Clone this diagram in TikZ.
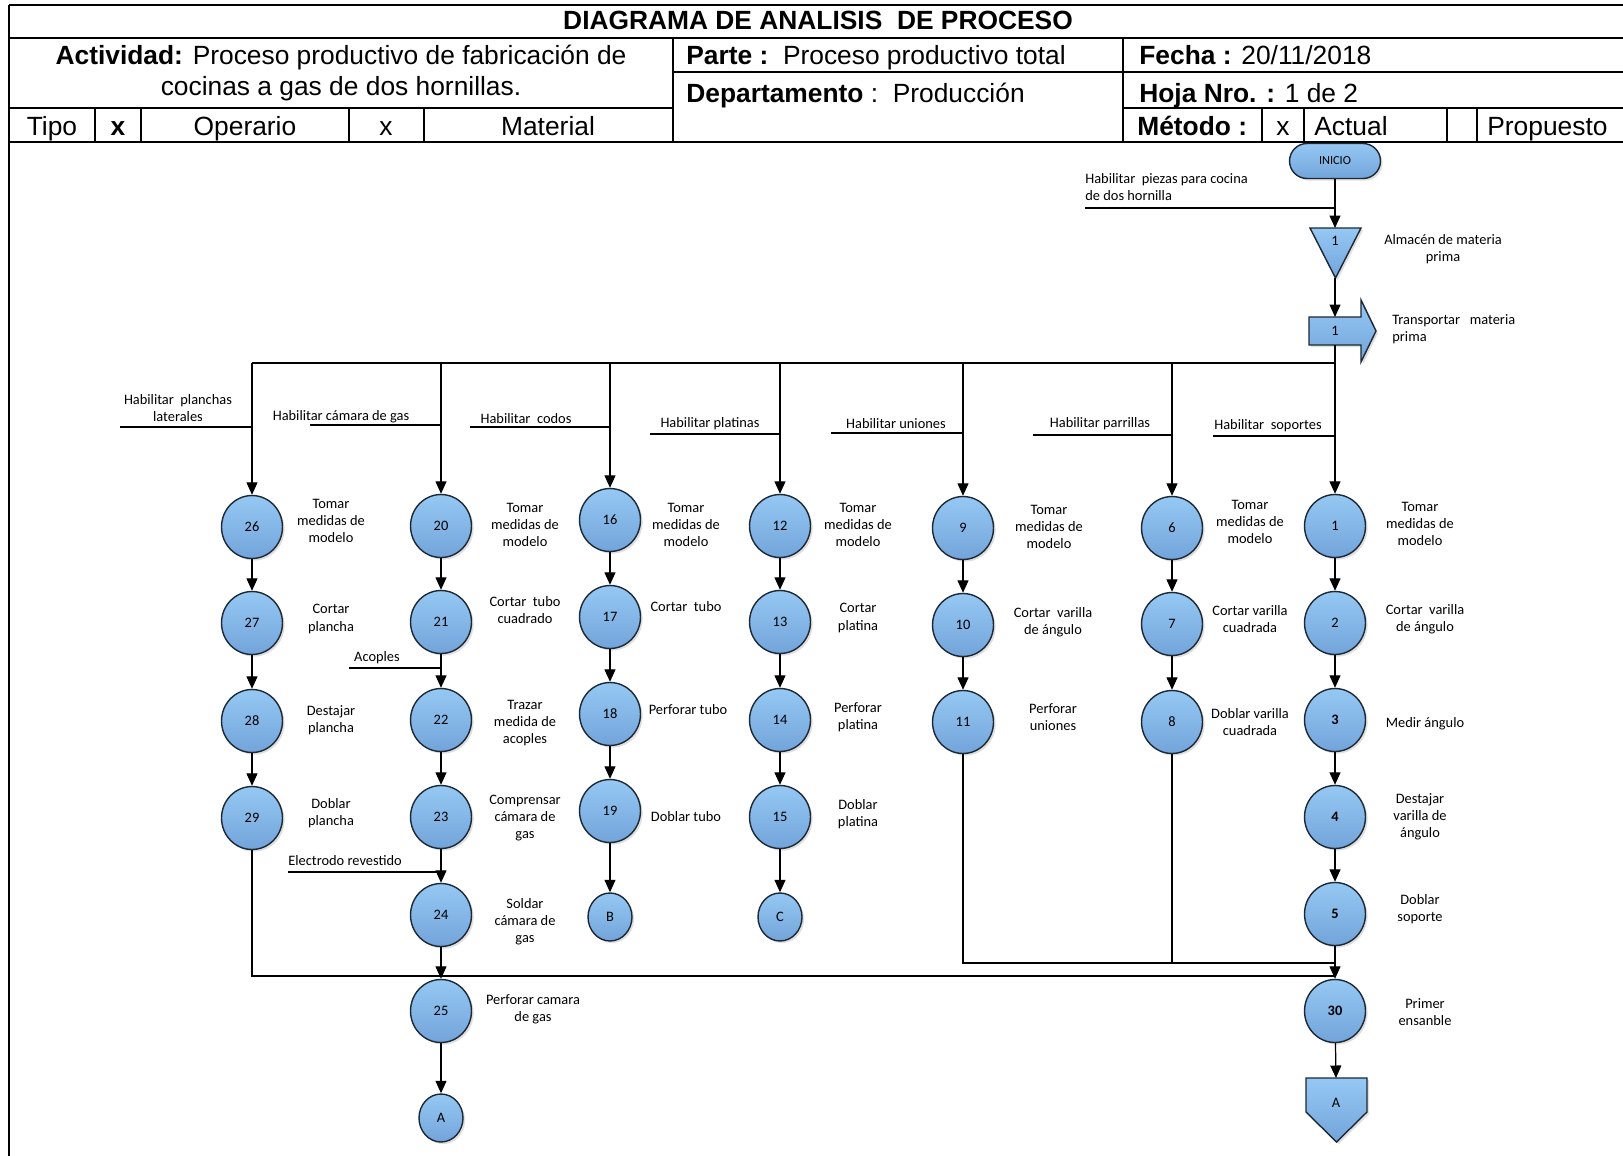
\documentclass[tikz,border=0pt]{standalone}
\usepackage{fontspec}
\setmainfont{Liberation Sans}
\newfontfamily\flowfont{Carlito}
\usetikzlibrary{arrows.meta,positioning,calc,shapes.geometric,shadows}
\definecolor{opup}{RGB}{150,200,244}
\definecolor{opdown}{RGB}{114,164,218}
\definecolor{opedge}{RGB}{28,40,52}
\tikzset{
  grid/.style={line width=1.2pt},
  hdr/.style={font=\fontsize{15}{17.6}\selectfont, inner sep=0pt},
  lbl/.style={font=\flowfont\fontsize{8.2}{9.7}\selectfont, align=center, inner sep=0pt},
  symfill/.style={draw=opedge, line width=0.8pt, top color=opup, bottom color=opdown,
                  drop shadow={opacity=0.25, shadow xshift=1.2pt, shadow yshift=-1.2pt}},
  opnode/.style={ellipse, symfill, minimum width=1.22cm, minimum height=1.26cm,
                 inner sep=0pt, font=\flowfont\fontsize{8.2}{9.7}\selectfont},
  linknode/.style={opnode, minimum width=0.88cm, minimum height=0.96cm},
  startnode/.style={rectangle, symfill, rounded corners=0.35cm, minimum width=1.82cm,
                    minimum height=0.7cm, inner sep=0pt, font=\flowfont\fontsize{7}{8}\selectfont},
  numlbl/.style={inner sep=0pt, font=\flowfont\fontsize{8.2}{9.7}\selectfont},
  flow/.style={-{Triangle[length=2.5mm,width=2.2mm]}, line width=0.7pt},
  feed/.style={line width=0.7pt},
}
\begin{document}
\begin{tikzpicture}[x=0.02cm, y=-0.02cm]
  \useasboundingbox (0,0) rectangle (1623,1156);

  % header grid
  \draw[grid] (9,5) -- (1623,5);
  \draw[grid] (9,38) -- (1623,38);
  \draw[grid] (673,72) -- (1623,72);
  \draw[grid] (9,108) -- (673,108);
  \draw[grid] (1123,108) -- (1623,108);
  \draw[grid] (9,142) -- (1623,142);
  \draw[grid] (9,5) -- (9,1156);
  \draw[grid] (673,38) -- (673,142);
  \draw[grid] (1123,38) -- (1123,142);
  \foreach \xv in {95,141,349,424,1262,1304,1447,1477}
    \draw[grid] (\xv,108) -- (\xv,142);

  % header texts
  \node[hdr, anchor=base] (title) at (818,30) {\textbf{DIAGRAMA DE ANALISIS\ \ DE PROCESO}};
  \node[hdr, align=center] (actividad) at (341,73)
    {\textbf{Actividad:} Proceso productivo de fabricación de\\cocinas a gas de dos hornillas.};
  \node[hdr, anchor=base west] (parte) at (686,64) {\textbf{Parte :}\ \ Proceso productivo total};
  \node[hdr, anchor=base west] (depto) at (686,102) {\textbf{Departamento} :\ \ Producción};
  \node[hdr, anchor=base west] (fecha) at (1139,64) {\textbf{Fecha :} 20/11/2018};
  \node[hdr, anchor=base west] (hoja) at (1139,102) {\textbf{Hoja Nro. :} 1 de 2};
  \node[hdr, anchor=base] (tipo) at (52,135) {Tipo};
  \node[hdr, anchor=base] (tipoOp) at (118,135) {\textbf{x}};
  \node[hdr, anchor=base] (operario) at (245,135) {Operario};
  \node[hdr, anchor=base] (tipoMat) at (386,135) {x};
  \node[hdr, anchor=base] (material) at (548,135) {Material};
  \node[hdr, anchor=base west] (metodo) at (1137,135) {\textbf{Método :}};
  \node[hdr, anchor=base] (metAct) at (1283,135) {x};
  \node[hdr, anchor=base west] (actual) at (1314,135) {Actual};
  \node[hdr, anchor=base west] (propuesto) at (1487,135) {Propuesto};

  % start, storage and transport
  \node[startnode] (ini) at (1335,161) {INICIO};
  \path[symfill] (1310,228) -- (1361,228) -- (1335.5,278) -- cycle;
  \node[numlbl] (alm) at (1335,241) {1};
  \coordinate (almTop) at (1335,228);
  \coordinate (almTip) at (1335,278);
  \path[symfill] (1309,317) -- (1361,317) -- (1361,300) -- (1376,331)
                 -- (1361,362) -- (1361,345) -- (1309,345) -- cycle;
  \node[numlbl] (trans) at (1335,331) {1};
  \coordinate (transTop) at (1335,317);
  \coordinate (transBot) at (1335,345);
  \node[lbl, anchor=west, align=left] (piezas) at (1085,187)
    {Habilitar\ \ piezas para cocina\\de dos hornilla};
  \node[lbl] (almTxt) at (1443,249) {Almacén de materia\\prima};
  \node[lbl, anchor=west, align=left] (transTxt) at (1392,329) {Transportar\ \ \ materia\\prima};

  % planchas laterales
  \node[opnode] (n26) at (252,527) {26};
  \node[opnode] (n27) at (252,623) {27};
  \node[opnode] (n28) at (252,721) {28};
  \node[opnode] (n29) at (252,818) {29};
  \node[lbl] (t26) at (331,521) {Tomar\\medidas de\\modelo};
  \node[lbl] (t27) at (331,619) {Cortar\\plancha};
  \node[lbl] (t28) at (331,720) {Destajar\\plancha};
  \node[lbl] (t29) at (331,813) {Doblar\\plancha};

  % camara de gas
  \node[opnode] (n20) at (441,526) {20};
  \node[opnode] (n21) at (441,622) {21};
  \node[opnode] (n22) at (441,720) {22};
  \node[opnode] (n23) at (441,817) {23};
  \node[opnode] (n24) at (441,915) {24};
  \node[opnode] (n25) at (441,1011) {25};
  \node[linknode] (endA) at (441,1118) {A};
  \node[lbl] (t20) at (525,525) {Tomar\\medidas de\\modelo};
  \node[lbl] (t21) at (525,610) {Cortar\ \ tubo\\cuadrado};
  \node[lbl] (t22) at (525,723) {Trazar\\medida de\\acoples};
  \node[lbl] (t23) at (525,818) {Comprensar\\cámara de\\gas};
  \node[lbl] (t24) at (525,922) {Soldar\\cámara de\\gas};
  \node[lbl] (t25) at (533,1009) {Perforar camara\\de gas};

  % codos
  \node[opnode] (n16) at (610,520) {16};
  \node[opnode] (n17) at (610,617) {17};
  \node[opnode] (n18) at (610,714) {18};
  \node[opnode] (n19) at (610,811) {19};
  \node[linknode] (endB) at (610,917) {B};
  \node[lbl] (t16) at (686,525) {Tomar\\medidas de\\modelo};
  \node[lbl] (t17) at (686,607) {Cortar\ \ tubo};
  \node[lbl] (t18) at (688,710) {Perforar tubo};
  \node[lbl] (t19) at (686,817) {Doblar tubo};

  % platinas
  \node[opnode] (n12) at (780,526) {12};
  \node[opnode] (n13) at (780,622) {13};
  \node[opnode] (n14) at (780,720) {14};
  \node[opnode] (n15) at (780,817) {15};
  \node[linknode] (endC) at (780,917) {C};
  \node[lbl] (t12) at (858,525) {Tomar\\medidas de\\modelo};
  \node[lbl] (t13) at (858,618) {Cortar\\platina};
  \node[lbl] (t14) at (858,717) {Perforar\\platina};
  \node[lbl] (t15) at (858,814) {Doblar\\platina};

  % uniones
  \node[opnode] (n9) at (963,528) {9};
  \node[opnode] (n10) at (963,625) {10};
  \node[opnode] (n11) at (963,722) {11};
  \node[lbl] (t9) at (1049,527) {Tomar\\medidas de\\modelo};
  \node[lbl] (t10) at (1053,622) {Cortar\ \ varilla\\de ángulo};
  \node[lbl] (t11) at (1053,717) {Perforar\\uniones};

  % parrillas
  \node[opnode] (n6) at (1172,528) {6};
  \node[opnode] (n7) at (1172,624) {7};
  \node[opnode] (n8) at (1172,722) {8};
  \node[lbl] (t6) at (1250,522) {Tomar\\medidas de\\modelo};
  \node[lbl] (t7) at (1250,619) {Cortar varilla\\cuadrada};
  \node[lbl] (t8) at (1250,722) {Doblar varilla\\cuadrada};

  % soportes and first assembly
  \node[opnode] (n1) at (1335,526) {1};
  \node[opnode] (n2) at (1335,623) {2};
  \node[opnode] (n3) at (1335,720) {\textbf{3}};
  \node[opnode] (n4) at (1335,817) {\textbf{4}};
  \node[opnode] (n5) at (1335,914) {\textbf{5}};
  \node[opnode] (n30) at (1335,1011) {\textbf{30}};
  \path[symfill] (1306,1078) -- (1367,1078) -- (1367,1112) -- (1336.5,1142) -- (1306,1112) -- cycle;
  \node[numlbl] (offA) at (1336,1103) {A};
  \coordinate (offTop) at (1336,1078);
  \node[lbl] (t1) at (1420,524) {Tomar\\medidas de\\modelo};
  \node[lbl] (t2) at (1425,619) {Cortar\ \ varilla\\de ángulo};
  \node[lbl] (t3) at (1425,724) {Medir ángulo};
  \node[lbl] (t4) at (1420,817) {Destajar\\varilla de\\ángulo};
  \node[lbl] (t5) at (1420,909) {Doblar\\soporte};
  \node[lbl] (t30) at (1425,1012) {Primer\\ensanble};

  % feeds from the left
  \coordinate (fPiezas) at (1085,208);
  \coordinate (f26) at (120,427);
  \coordinate (f20) at (310,425);
  \coordinate (f16) at (470,427);
  \coordinate (f12) at (650,434);
  \coordinate (f9) at (831,433);
  \coordinate (f6) at (1033,435);
  \coordinate (f1) at (1213,436);
  \coordinate (fAcop) at (349,668);
  \coordinate (fElec) at (288,872);
  \node[lbl] (h26) at (178,408) {Habilitar\ \ planchas\\laterales};
  \node[lbl] (h20) at (341,417) {Habilitar cámara de gas};
  \node[lbl] (h16) at (526,419) {Habilitar\ \ codos};
  \node[lbl] (h12) at (710,424) {Habilitar platinas};
  \node[lbl] (h9) at (896,424) {Habilitar uniones};
  \node[lbl] (h6) at (1100,424) {Habilitar parrillas};
  \node[lbl] (h1) at (1268,426) {Habilitar\ \ soportes};
  \node[lbl] (hAcop) at (377,658) {Acoples};
  \node[lbl, anchor=west] (hElec) at (288,861) {Electrodo revestido};
  \draw[feed] (fPiezas) -- (fPiezas -| ini);
  \draw[feed] (f26) -- (f26 -| n26);
  \draw[feed] (f20) -- (f20 -| n20);
  \draw[feed] (f16) -- (f16 -| n16);
  \draw[feed] (f12) -- (f12 -| n12);
  \draw[feed] (f9) -- (f9 -| n9);
  \draw[feed] (f6) -- (f6 -| n6);
  \draw[feed] (f1) -- (f1 -| n1);
  \draw[feed] (fAcop) -- (fAcop -| n21);
  \draw[feed] (fElec) -- (fElec -| n24);

  % main line and branches
  \coordinate (bus) at (252,363);
  \draw[flow] (ini) -- (almTop);
  \draw[flow] (almTip) -- (transTop);
  \draw[flow] (transBot) -- (n1);
  \draw[feed] (bus) -- (bus -| n1);
  \draw[flow] (bus) -- (n26);
  \draw[flow] (bus -| n20) -- (n20);
  \draw[flow] (bus -| n16) -- (n16);
  \draw[flow] (bus -| n12) -- (n12);
  \draw[flow] (bus -| n9) -- (n9);
  \draw[flow] (bus -| n6) -- (n6);

  % operation sequences
  \draw[flow] (n26) -- (n27);
  \draw[flow] (n27) -- (n28);
  \draw[flow] (n28) -- (n29);
  \draw[flow] (n20) -- (n21);
  \draw[flow] (n21) -- (n22);
  \draw[flow] (n22) -- (n23);
  \draw[flow] (n23) -- (n24);
  \draw[flow] (n24) -- (n25);
  \draw[flow] (n25) -- (endA);
  \draw[flow] (n16) -- (n17);
  \draw[flow] (n17) -- (n18);
  \draw[flow] (n18) -- (n19);
  \draw[flow] (n19) -- (endB);
  \draw[flow] (n12) -- (n13);
  \draw[flow] (n13) -- (n14);
  \draw[flow] (n14) -- (n15);
  \draw[flow] (n15) -- (endC);
  \draw[flow] (n9) -- (n10);
  \draw[flow] (n10) -- (n11);
  \draw[flow] (n6) -- (n7);
  \draw[flow] (n7) -- (n8);
  \draw[flow] (n1) -- (n2);
  \draw[flow] (n2) -- (n3);
  \draw[flow] (n3) -- (n4);
  \draw[flow] (n4) -- (n5);
  \draw[flow] (n5) -- (n30);
  \draw[flow] (n30) -- (offTop);

  % joins into the first assembly
  \coordinate (joinLow) at (1335,976);
  \coordinate (joinHigh) at (1335,963);
  \draw[feed] (n29) |- (joinLow);
  \draw[feed] (n11) |- (joinHigh);
  \draw[feed] (n8) -- (n8 |- joinHigh);
\end{tikzpicture}
\end{document}
